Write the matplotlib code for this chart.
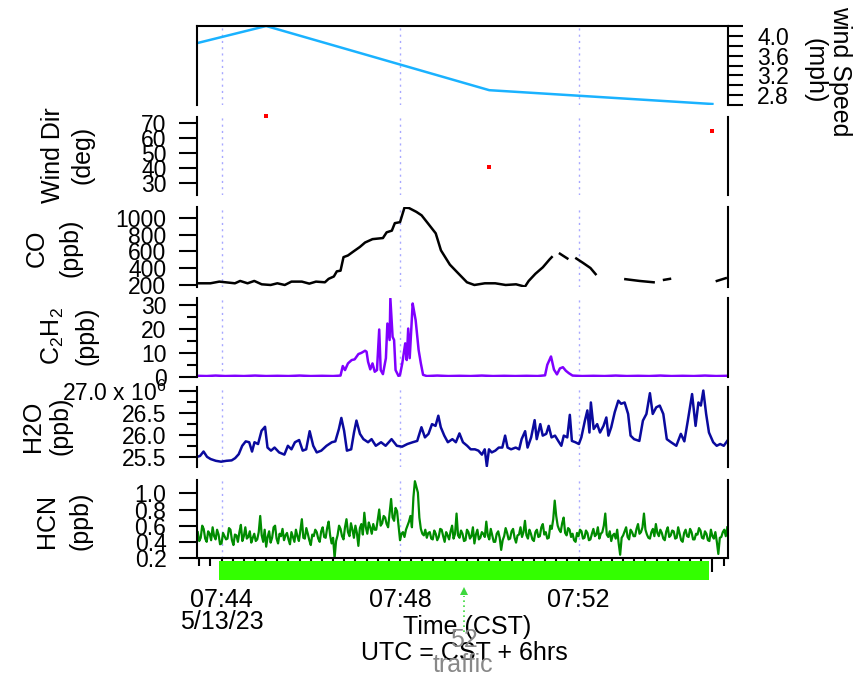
import numpy as np
import matplotlib
matplotlib.use('Agg')
import matplotlib.pyplot as plt
import matplotlib.transforms as mtransforms
from matplotlib.ticker import FixedLocator, MultipleLocator, FuncFormatter

# ── Data: times are seconds after 07:44:00 CST on 5/13/23 ──────────────────
# met station, 5-min values
met_t = [-240, 60, 360, 660]
wind_speed_mph = [3.08, 4.20, 2.90, 2.62]
wind_dir_t = [60, 360, 660]
wind_dir_deg = [74.4, 40.8, 64.5]

# CO (ppb); NaN marks dropouts
co_t = [-31, -15, -3, 18, 25, 35, 44, 54, 66, 75, 85, 94, 108, 118, 127, 139,
        144, 151, 155, 160, 164, 170, 177, 186, 193, 203, 217, 222, 229, 233,
        240, 246, 252, 262, 269, 278, 288, 295, 307, 318, 330, 340, 354, 368,
        382, 396, 408, 413, 422, 432, 441, 444, 449, 455, 465, 470, 477, 486,
        496, 503, 520, 543, 562, 581, 588, 595, 603, 630, 666, 678]
co_ppb = [220, 220, 240, 220, 248, 220, 248, 208, 200, 220, 200, 240, 240, 216,
          240, 232, 273, 301, 362, 370, 531, 551, 596, 652, 705, 745, 758, 826,
          846, 935, 947, 1120, 1115, 1069, 1028, 927, 814, 612, 442, 341, 232,
          200, 220, 220, 200, 208, 180, 248, 333, 410, 503, 531, np.nan, 572,
          515, np.nan, 515, 463, 402, 329, np.nan, 269, 248, 232, np.nan, 261,
          273, np.nan, 248, 281]

# C2H2 (ppb)
c2h2_t = [-33, -20, -8, 5, 18, 30, 45, 60, 75, 90, 105, 120, 135, 150, 160,
          163, 166, 170, 175, 179, 184, 188, 193, 195, 197, 200, 203, 206, 209,
          212, 214, 217, 221, 223, 226, 227, 230, 232, 234, 238, 240, 243, 247,
          249, 251, 253, 257, 259, 261, 265, 268, 271, 276,
          290, 305, 320, 335, 350, 365, 380, 395, 410, 425, 435,
          438, 443, 447, 451, 455, 459, 463, 467, 472,
          485, 500, 515, 530, 545, 560, 575, 590, 605, 620, 635, 650, 665, 680]
c2h2_ppb = [0.4, 0.3, 0.5, 0.3, 0.4, 0.3, 0.5, 0.3, 0.4, 0.3, 0.5, 0.3, 0.4, 0.3, 0.5,
            4.5, 2.8, 5.6, 7.0, 7.3, 9.5, 10.0, 10.9, 10.5, 6.3, 3.1, 5.6, 2.1, 2.8,
            19.8, 2.8, 1.1, 7.8, 22.3, 15.4, 32.8, 16.7, 15.4, 2.8, 0.3, 0.8, 5.6, 14.0,
            7.0, 20.2, 7.8, 30.7, 27.2, 23.7, 11.2, 5.6, 0.8, 0.3,
            0.5, 0.3, 0.4, 0.3, 0.5, 0.3, 0.4, 0.3, 0.4, 0.3, 0.6,
            5.0, 8.5, 3.0, 1.0, 3.5, 4.0, 2.5, 1.5, 0.5,
            0.3, 0.4, 0.3, 0.5, 0.3, 0.4, 0.3, 0.5, 0.3, 0.4, 0.3, 0.5, 0.3, 0.4]

# H2O (x 10^6 ppb)
h2o_t = [-32.7, -28.9, -24.2, -19.5, -14.7, -7.7, -0.6, 6.5, 13.6, 18.3,
         23.1, 27.8, 32.5, 37.2, 41.0, 44.3, 49.1, 53.8, 58.5, 61.8,
         66.5, 71.3, 77.4, 84.5, 89.2, 94.0, 98.7, 104.3, 109.1, 113.8,
         118.5, 123.3, 128.0, 134.1, 141.2, 148.3, 153.0, 157.8, 161.1, 164.8,
         168.6, 174.3, 178.1, 181.4, 186.1, 190.8, 197.0, 201.7, 207.4, 214.5,
         220.6, 228.6, 235.7, 242.8, 249.9, 257.0, 263.1, 268.8, 273.5, 278.3,
         283.0, 287.7, 291.5, 294.8, 299.5, 304.3, 310.4, 315.1, 319.9, 324.6,
         330.3, 335.0, 340.7, 345.4, 350.1, 353.9, 356.7, 359.6, 363.3, 368.1,
         372.8, 377.5, 381.3, 384.6, 389.3, 395.5, 400.2, 403.5, 408.2, 411.5,
         416.3, 421.0, 423.8, 428.6, 431.9, 436.6, 439.9, 443.7, 448.4, 453.1,
         456.9, 460.2, 464.9, 468.3, 471.1, 475.8, 480.5, 483.8, 488.6, 491.9,
         494.7, 496.6, 500.4, 505.1, 508.9, 513.6, 517.4, 520.2, 524.0, 528.7,
         533.5, 537.3, 542.0, 546.7, 550.0, 554.7, 561.8, 566.6, 571.3, 576.0,
         579.8, 584.5, 589.2, 594.0, 598.7, 604.4, 611.5, 617.6, 622.3, 627.0,
         632.7, 637.4, 641.2, 644.5, 647.8, 651.6, 655.4, 661.1, 665.8, 670.5,
         675.3, 680.0]
h2o_e6ppb = [25.50, 25.52, 25.62, 25.50, 25.45, 25.41, 25.39, 25.41, 25.42, 25.47,
             25.56, 25.75, 25.85, 25.83, 25.62, 25.83, 25.79, 26.09, 26.18, 25.71,
             25.64, 25.71, 25.60, 25.55, 25.75, 25.67, 25.83, 25.88, 25.64, 25.67,
             26.08, 25.75, 25.60, 25.64, 25.75, 25.83, 25.85, 26.13, 26.38, 26.09,
             25.64, 25.67, 26.05, 26.32, 26.02, 25.90, 25.83, 25.90, 25.75, 25.83,
             25.75, 25.90, 25.75, 25.73, 25.79, 25.83, 25.86, 26.17, 25.94, 26.02,
             26.24, 26.20, 26.43, 26.17, 25.98, 25.83, 25.90, 25.83, 26.03, 25.83,
             25.75, 25.67, 25.67, 25.64, 25.55, 25.67, 25.29, 25.67, 25.60, 25.64,
             25.71, 25.71, 25.98, 25.71, 25.67, 25.71, 25.67, 25.90, 26.08, 25.71,
             25.94, 26.33, 25.90, 26.24, 25.98, 26.02, 26.20, 25.94, 25.98, 25.85,
             25.75, 25.98, 25.94, 26.45, 25.86, 25.83, 25.79, 25.94, 26.32, 26.55,
             26.05, 26.73, 26.13, 26.24, 26.05, 26.20, 26.39, 25.98, 26.17, 26.51,
             26.77, 26.70, 26.73, 26.47, 25.98, 25.90, 25.86, 26.32, 26.47, 26.94,
             26.47, 26.62, 26.66, 26.47, 25.90, 25.83, 25.75, 26.02, 25.85, 26.32,
             26.92, 26.20, 26.73, 26.66, 27.00, 26.47, 26.05, 25.83, 25.75, 25.79,
             25.75, 25.86]

# HCN (ppb), one value every 2 s starting at 07:43:28
HCN_T0, HCN_DT = -32, 2
hcn_ppb = [
    0.52, 0.41, 0.45, 0.60, 0.56, 0.44, 0.40, 0.53, 0.50, 0.42,
    0.58, 0.47, 0.43, 0.55, 0.49, 0.37, 0.38, 0.51, 0.47, 0.43,
    0.44, 0.57, 0.55, 0.42, 0.36, 0.49, 0.48, 0.40, 0.52, 0.61,
    0.41, 0.47, 0.58, 0.44, 0.46, 0.53, 0.39, 0.45, 0.50, 0.41,
    0.43, 0.52, 0.72, 0.48, 0.40, 0.55, 0.34, 0.46, 0.53, 0.39,
    0.45, 0.58, 0.60, 0.44, 0.38, 0.50, 0.47, 0.56, 0.42, 0.48,
    0.51, 0.43, 0.37, 0.52, 0.46, 0.40, 0.55, 0.47, 0.41, 0.54,
    0.68, 0.45, 0.44, 0.57, 0.50, 0.42, 0.36, 0.49, 0.47, 0.55,
    0.52, 0.44, 0.40, 0.53, 0.58, 0.46, 0.45, 0.57, 0.65, 0.48,
    0.38, 0.45, 0.20, 0.41, 0.48, 0.60, 0.56, 0.47, 0.43, 0.58,
    0.68, 0.52, 0.47, 0.63, 0.55, 0.45, 0.60, 0.51, 0.35, 0.57,
    0.62, 0.49, 0.76, 0.58, 0.50, 0.64, 0.58, 0.50, 0.62, 0.55,
    0.55, 0.67, 0.80, 0.60, 0.63, 0.72, 0.70, 0.62, 0.58, 0.75,
    0.93, 0.70, 0.66, 0.82, 0.78, 0.60, 0.42, 0.50, 0.52, 0.46,
    0.55, 0.60, 0.65, 0.72, 0.58, 0.95, 1.15, 1.08, 1.01, 0.70,
    0.56, 0.50, 0.48, 0.55, 0.45, 0.51, 0.52, 0.44, 0.43, 0.54,
    0.50, 0.42, 0.46, 0.56, 0.55, 0.47, 0.40, 0.52, 0.48, 0.43,
    0.53, 0.60, 0.44, 0.50, 0.75, 0.48, 0.45, 0.54, 0.50, 0.41,
    0.42, 0.55, 0.52, 0.44, 0.47, 0.58, 0.38, 0.49, 0.55, 0.43,
    0.45, 0.52, 0.50, 0.46, 0.65, 0.48, 0.43, 0.56, 0.48, 0.40,
    0.40, 0.50, 0.53, 0.45, 0.30, 0.42, 0.47, 0.57, 0.51, 0.43,
    0.44, 0.53, 0.56, 0.45, 0.39, 0.48, 0.49, 0.58, 0.46, 0.52,
    0.66, 0.48, 0.44, 0.55, 0.50, 0.43, 0.41, 0.52, 0.55, 0.46,
    0.47, 0.58, 0.62, 0.49, 0.52, 0.44, 0.45, 0.60, 0.56, 0.68,
    0.91, 0.72, 0.60, 0.55, 0.52, 0.63, 0.70, 0.51, 0.48, 0.57,
    0.55, 0.46, 0.50, 0.42, 0.40, 0.51, 0.47, 0.55, 0.53, 0.44,
    0.45, 0.54, 0.51, 0.42, 0.43, 0.50, 0.56, 0.47, 0.49, 0.58,
    0.44, 0.50, 0.52, 0.60, 0.75, 0.49, 0.46, 0.53, 0.41, 0.48,
    0.50, 0.44, 0.55, 0.38, 0.24, 0.45, 0.48, 0.53, 0.58, 0.46,
    0.43, 0.55, 0.52, 0.47, 0.47, 0.56, 0.62, 0.50, 0.52, 0.58,
    0.75, 0.55, 0.49, 0.45, 0.44, 0.52, 0.56, 0.47, 0.62, 0.51,
    0.47, 0.55, 0.51, 0.44, 0.42, 0.53, 0.58, 0.46, 0.48, 0.54,
    0.53, 0.44, 0.45, 0.58, 0.50, 0.42, 0.40, 0.51, 0.55, 0.47,
    0.46, 0.56, 0.52, 0.43, 0.43, 0.50, 0.49, 0.57, 0.54, 0.45,
    0.44, 0.53, 0.50, 0.42, 0.41, 0.55, 0.47, 0.44, 0.52, 0.40,
    0.25, 0.45, 0.46, 0.52, 0.55, 0.47, 0.58]

# traffic flag
traffic_start, traffic_end = -4, 655
traffic_t = 326
traffic_count = '52'

# bottom axis labels
label_t = [0, 240, 480]
label_hhmm = ['07:44', '07:48', '07:52']
date_label = '5/13/23'

# ── Style ───────────────────────────────────────────────────────────────────
FIG_W, FIG_H = 858, 676
T_LEFT, T_RIGHT = -33, 681
FS = 18          # titles, time labels
FS_TICK = 16.5   # y tick labels
SPINE_W = 1.5
TRACE_W = 1.8
GRID_COLOR = '#a8a8ff'
C_WS = '#1ab2ff'
C_WD = '#ff0000'
C_CO = '#000000'
C_C2H2 = '#8000ff'
C_H2O = '#0a0a9e'
C_HCN = '#008c00'
C_FLAG = '#33ff00'
C_ARROW = '#3ed83e'
C_NOTE = '#888888'

plt.rcParams.update({
    'font.family': 'Liberation Sans',
    'font.size': FS,
    'mathtext.fontset': 'custom',
    'mathtext.rm': 'Liberation Sans',
    'mathtext.it': 'Liberation Sans:italic',
    'mathtext.bf': 'Liberation Sans:bold',
})


def fx(x):
    return x / FIG_W


def fy(y):
    return 1 - y / FIG_H


def px_axes(fig, top, bottom, left=197, right=728):
    """Axes placed by pixel edges, origin at top-left."""
    return fig.add_axes([fx(left), fy(bottom), (right - left) / FIG_W,
                         (bottom - top) / FIG_H])


def style_panel(ax, side='left'):
    ax.set_xlim(T_LEFT, T_RIGHT)
    for s in ('top', 'bottom'):
        ax.spines[s].set_visible(False)
    for s in ('left', 'right'):
        ax.spines[s].set_linewidth(SPINE_W)
    ax.tick_params(axis='x', which='both', bottom=False, labelbottom=False)
    if side == 'right':
        ax.yaxis.tick_right()
    ax.tick_params(axis='y', which='major', direction='out', length=13,
                   width=SPINE_W, pad=9, labelsize=FS_TICK)
    ax.tick_params(axis='y', which='minor', direction='out', length=7,
                   width=SPINE_W)
    for t in label_t:
        ax.axvline(t, color=GRID_COLOR, lw=1.0, ls=(0, (1.5, 3)), zorder=0)


def ylabel2(x1, x2, y, line1, line2, rot=90):
    fig.text(fx(x1), fy(y), line1, rotation=rot, ha='center', va='center')
    fig.text(fx(x2), fy(y), line2, rotation=rot, ha='center', va='center')


fig = plt.figure(figsize=(FIG_W / 100, FIG_H / 100), dpi=100)

# wind speed (right axis, framed on top)
ax_ws = px_axes(fig, 26, 105)
style_panel(ax_ws, side='right')
ax_ws.spines['top'].set_visible(True)
ax_ws.spines['top'].set_linewidth(SPINE_W)
ax_ws.plot(met_t, wind_speed_mph, color=C_WS, lw=TRACE_W)
ax_ws.set_ylim(2.60, 4.20)
ax_ws.yaxis.set_major_locator(FixedLocator([2.8, 3.2, 3.6, 4.0]))
ax_ws.yaxis.set_minor_locator(MultipleLocator(0.2))
ax_ws.yaxis.set_major_formatter(FuncFormatter(lambda v, p: f'{v:.1f}'))
ax_ws.tick_params(axis='y', which='both', length=11, pad=10)

# wind direction
ax_wd = px_axes(fig, 117, 195)
style_panel(ax_wd)
ax_wd.plot(wind_dir_t, wind_dir_deg, ls='none', marker='s', ms=3.2,
           mew=0, color=C_WD, clip_on=False)
ax_wd.set_ylim(22.3, 73.8)
ax_wd.yaxis.set_major_locator(MultipleLocator(10))

# CO
ax_co = px_axes(fig, 207, 287)
style_panel(ax_co)
ax_co.plot(co_t, co_ppb, color=C_CO, lw=TRACE_W)
ax_co.set_ylim(176, 1127)
ax_co.yaxis.set_major_locator(MultipleLocator(200))

# C2H2
ax_c2 = px_axes(fig, 298, 377)
style_panel(ax_c2)
ax_c2.plot(c2h2_t, c2h2_ppb, color=C_C2H2, lw=TRACE_W)
ax_c2.set_ylim(-0.1, 33)
ax_c2.yaxis.set_major_locator(MultipleLocator(10))
ax_c2.yaxis.set_minor_locator(MultipleLocator(5))

# H2O
ax_h2o = px_axes(fig, 387, 467)
style_panel(ax_h2o)
ax_h2o.plot(h2o_t, h2o_e6ppb, color=C_H2O, lw=TRACE_W)
ax_h2o.set_ylim(25.27, 27.08)
ax_h2o.yaxis.set_major_locator(MultipleLocator(0.5))
ax_h2o.yaxis.set_minor_locator(MultipleLocator(0.25))
ax_h2o.yaxis.set_major_formatter(FuncFormatter(
    lambda v, p: '27.0 x 10$^6$' if abs(v - 27.0) < 1e-6 else f'{v:.1f}'))

# HCN, carries the time axis
ax_hcn = px_axes(fig, 480, 558)
style_panel(ax_hcn)
hcn_t = HCN_T0 + HCN_DT * np.arange(len(hcn_ppb))
ax_hcn.plot(hcn_t, hcn_ppb, color=C_HCN, lw=1.6)
ax_hcn.set_ylim(0.2, 1.165)
ax_hcn.yaxis.set_major_locator(MultipleLocator(0.2))
ax_hcn.yaxis.set_major_formatter(FuncFormatter(lambda v, p: f'{v:.1f}'))
ax_hcn.spines['bottom'].set_visible(True)
ax_hcn.spines['bottom'].set_linewidth(SPINE_W)
ax_hcn.xaxis.set_major_locator(MultipleLocator(60))
ax_hcn.xaxis.set_minor_locator(MultipleLocator(15))
ax_hcn.tick_params(axis='x', which='major', bottom=True, direction='out',
                   length=10, width=SPINE_W, labelbottom=False)
ax_hcn.tick_params(axis='x', which='minor', bottom=True, direction='out',
                   length=6, width=SPINE_W)

# traffic flag bar under the time axis
ax_hcn.axvspan(traffic_start, traffic_end, ymin=(558 - 580) / 78,
               ymax=(558 - 561) / 78, color=C_FLAG, lw=0, clip_on=False, zorder=5)

# time labels and traffic marker: data x, figure y
blend = mtransforms.blended_transform_factory(ax_hcn.transData, fig.transFigure)
ax_hcn.plot([traffic_t, traffic_t], [fy(632), fy(596)], transform=blend,
            color=C_ARROW, lw=1.2, ls=(0, (1, 2)), clip_on=False)
ax_hcn.plot([traffic_t], [fy(591)], transform=blend, marker='^', ms=6,
            mew=0, color=C_ARROW, clip_on=False)
for t, s in zip(label_t, label_hhmm):
    ax_hcn.text(t, fy(600), s, transform=blend, ha='center', va='center')
ax_hcn.text(label_t[0], fy(622), date_label, transform=blend, ha='center', va='center')

# axis titles
ylabel2(840, 815, 71, 'wind Speed', '(mph)', rot=-90)
ylabel2(53, 83, 155, 'Wind Dir', '(deg)')
ylabel2(37, 70, 248, 'CO', '(ppb)')
ylabel2(53, 87, 336, 'C$_2$H$_2$', '(ppb)')
ylabel2(33, 60, 426, 'H2O', '(ppb)')
ylabel2(47, 80, 521, 'HCN', '(ppb)')

fig.text(fx(467), fy(627), 'Time (CST)', ha='center', va='center')
fig.text(fx(464), fy(653), 'UTC = CST + 6hrs', ha='center', va='center')
fig.text(fx(464), fy(640), traffic_count, ha='center', va='center', color=C_NOTE)
fig.text(fx(463), fy(665), 'traffic', ha='center', va='center', color=C_NOTE)

fig.savefig('out.png', dpi=100)
